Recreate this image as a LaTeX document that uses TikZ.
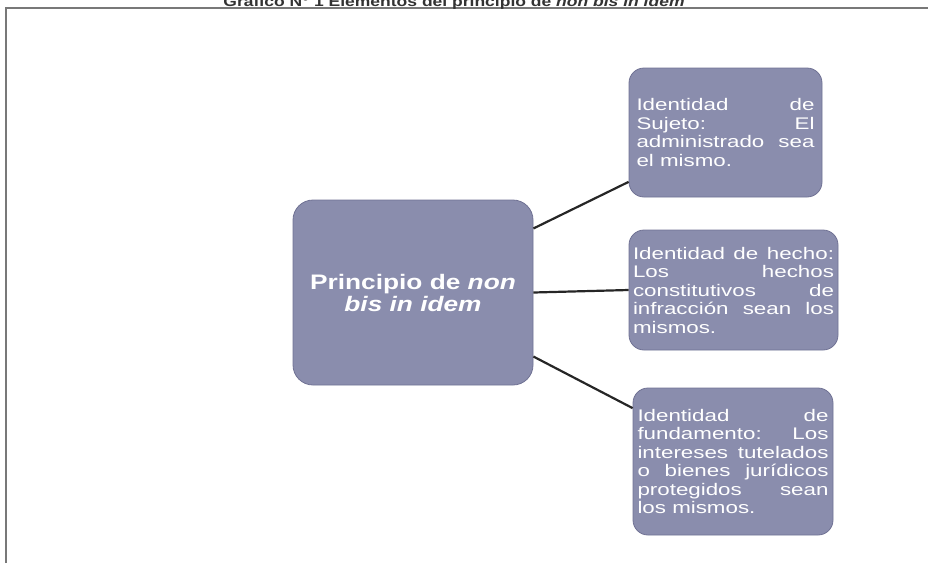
\documentclass[tikz,border=0pt]{standalone}
\usepackage{fontspec}
\setmainfont{Liberation Sans}
\newfontfamily\boxfont[FakeStretch=1.33]{Liberation Sans}
\newfontfamily\headfont[FakeStretch=1.25]{Liberation Sans}
\usepackage{xcolor}
\usetikzlibrary{calc}
\definecolor{boxfill}{RGB}{138,141,173}
\definecolor{boxedge}{RGB}{112,114,148}
\definecolor{framegray}{RGB}{120,120,120}

\tikzset{
  mainbox/.style={draw=boxedge, line width=0.8pt, fill=boxfill, rounded corners=20pt,
    minimum width=240pt, minimum height=185pt, align=center, text=white,
    font=\headfont\bfseries\fontsize{21}{22}\selectfont},
  itembox/.style={draw=boxedge, line width=0.8pt, fill=boxfill, rounded corners=15pt,
    align=justify, text=white, inner sep=0pt,
    font=\boxfont\fontsize{16.8}{18.5}\selectfont,
    execute at begin node={\hyphenpenalty=10000 \exhyphenpenalty=10000 \tolerance=9999 }},
  link/.style={line width=2.2pt, color=black!85}
}

\begin{document}
\begin{tikzpicture}[x=1pt,y=-1pt]
\useasboundingbox (0,0) rectangle (928,563);
% frame and title
\draw[framegray, line width=2pt] (6,563) -- (6,8) -- (928,8);
\node[anchor=base, inner sep=0pt, font=\headfont\bfseries\fontsize{14}{16}\selectfont, text=black!80] (title) at (454,6.5)
  {Gráfico N° 1 Elementos del principio de \textit{non bis in idem}};

% boxes
\node[mainbox] (principio) at (413,292.5) {Principio de \textit{non}\\ \textit{bis in idem}};
\node[itembox, minimum width=193pt, minimum height=129pt, text width=178pt] (sujeto) at (725.5,132.5)
  {Identidad de\linebreak Sujeto: El\linebreak administrado sea\linebreak el mismo.};
\node[itembox, minimum width=209pt, minimum height=120pt, text width=201pt] (hecho) at (733.5,290)
  {Identidad de hecho:\linebreak Los hechos\linebreak constitutivos de\linebreak infracción sean los\linebreak mismos.};
\node[itembox, minimum width=200pt, minimum height=147pt, text width=191pt] (fundamento) at (733,461.5)
  {Identidad de\linebreak fundamento: Los\linebreak intereses tutelados\linebreak o bienes jurídicos\linebreak protegidos sean\linebreak los mismos.};

% connectors
\draw[link] (principio.28) -- (sujeto.207);
\draw[link] (principio.east) -- (hecho.west);
\draw[link] (principio.-28) -- (fundamento.152);
\end{tikzpicture}
\end{document}
